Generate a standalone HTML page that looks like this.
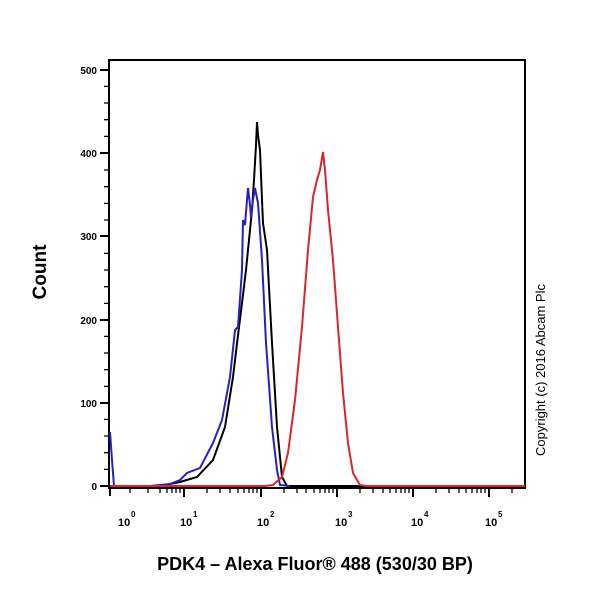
<!DOCTYPE html>
<html><head><style>body{margin:0;background:#fff}svg{display:block}</style></head><body>
<svg width="600" height="600" xmlns="http://www.w3.org/2000/svg" font-family="Liberation Sans, sans-serif">
<rect width="600" height="600" fill="#fff"/>
<rect x="109" y="60" width="416" height="428" fill="none" stroke="#000" stroke-width="2"/>
<g stroke="#000" stroke-width="2">
<line x1="100" y1="486" x2="109" y2="486"/><line x1="100" y1="403" x2="109" y2="403"/><line x1="100" y1="320" x2="109" y2="320"/><line x1="100" y1="236" x2="109" y2="236"/><line x1="100" y1="153" x2="109" y2="153"/><line x1="100" y1="70" x2="109" y2="70"/>
</g>
<g stroke="#000" stroke-width="1.3">
<path d="M104 469.4H109M104 452.7H109M104 436H109M104 419.4H109M104 386.4H109M104 369.7H109M104 353H109M104 336.4H109M104 303.4H109M104 286.7H109M104 270H109M104 253.4H109M104 220H109M104 203.4H109M104 186.7H109M104 170H109M104 136.4H109M104 119.7H109M104 103H109M104 86.4H109"/>
</g>
<g font-size="10" font-weight="bold" text-anchor="end" fill="#000">
<text x="97" y="490">0</text><text x="97" y="407">100</text><text x="97" y="324">200</text><text x="97" y="240">300</text><text x="97" y="157">400</text><text x="97" y="74">500</text>
</g>
<g stroke="#000" stroke-width="2">
<path d="M110 488v8M184 488v9M261 488v9M337 488v9M413 488v9M489 488v9"/>
</g>
<g stroke="#000" stroke-width="1.3">
<path d="M130 488v5M148 488v5M160 488v5M167 488v5M172 488v5M176 488v5M180 488v5M207 488v5M220 488v5M230 488v5M238 488v5M244 488v5M249 488v5M253 488v5M257 488v5M284 488v5M297 488v5M306 488v5M314 488v5M320 488v5M325 488v5M329 488v5M333 488v5M360 488v5M373 488v5M383 488v5M390 488v5M396 488v5M401 488v5M405 488v5M409 488v5M436 488v5M449 488v5M459 488v5M466 488v5M472 488v5M477 488v5M481 488v5M485 488v5M512 488v5"/>
</g>
<g font-size="11" font-weight="bold" fill="#000">
<text x="118" y="526">10</text><text x="131" y="517" font-size="8">0</text>
<text x="180" y="526">10</text><text x="193" y="517" font-size="8">1</text>
<text x="257" y="526">10</text><text x="270" y="517" font-size="8">2</text>
<text x="335" y="526">10</text><text x="348" y="517" font-size="8">3</text>
<text x="411" y="526">10</text><text x="424" y="517" font-size="8">4</text>
<text x="485" y="526">10</text><text x="498" y="517" font-size="8">5</text>
</g>
<polyline fill="none" stroke="#000" stroke-width="2" points="110,486 160,486 180,482 197,477 213,460 225,427 233,377 239,327 243,295 246,270 249,240 252,210 254,180 256,145 257,122 258,135 260,150 262,200 263,223 267,250 272,343 277,427 282,477 287,486 525,486"/>
<polyline fill="none" stroke="#2a1fc0" stroke-width="2" points="110,432 112,460 114,486 150,486 170,484 180,480 187,473 200,468 213,443 222,420 230,377 235,330 238,327 242,270 243,220 245,225 247,200 248,188 250,205 251,217 253,200 255,188 258,203 262,260 266,343 272,427 277,470 280,485 290,486"/>
<polyline fill="none" stroke="#d8262a" stroke-width="2" points="110,486 265,486 273,485 282,477 288,453 295,400 302,327 308,250 313,197 317,180 320,170 323,152 325,170 328,210 333,260 338,327 343,393 348,443 353,473 360,485 366,486 525,486"/>
<text transform="translate(46,272) rotate(-90)" font-size="19" font-weight="bold" text-anchor="middle" fill="#000">Count</text>
<text x="315" y="570" font-size="18" font-weight="bold" text-anchor="middle" fill="#000">PDK4 – Alexa Fluor® 488 (530/30 BP)</text>
<text transform="translate(545,370) rotate(-90)" font-size="13" text-anchor="middle" fill="#000">Copyright (c) 2016 Abcam Plc</text>
</svg>
</body></html>
